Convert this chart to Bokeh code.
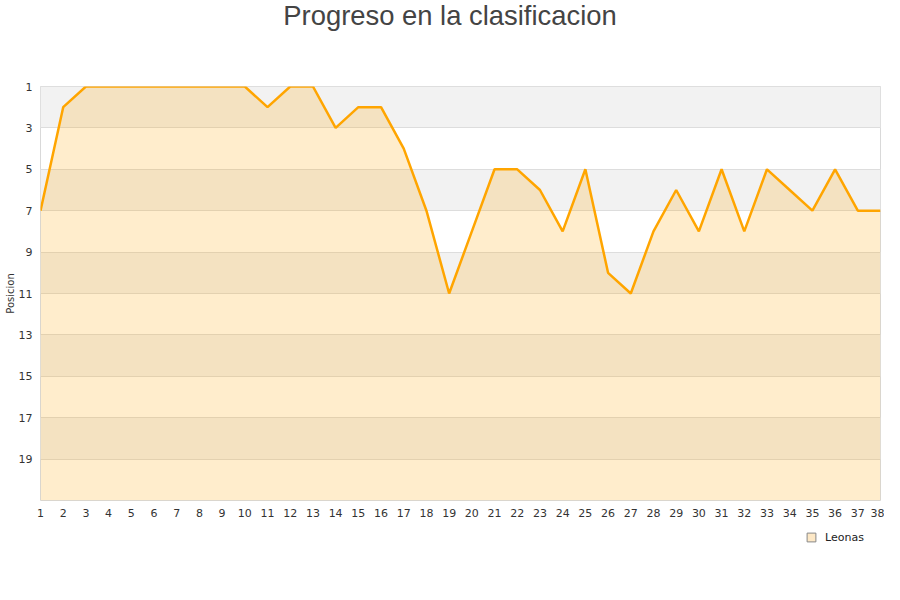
from bokeh.plotting import figure
from bokeh.layouts import column
from bokeh.models import (Range1d, FixedTicker, Legend, LegendItem, ColumnDataSource, Label)
from bokeh.embed import file_html
from bokeh.resources import INLINE

jornadas = [1, 2, 3, 4, 5, 6, 7, 8, 9, 10, 11, 12, 13, 14, 15, 16, 17, 18, 19,
            20, 21, 22, 23, 24, 25, 26, 27, 28, 29, 30, 31, 32, 33, 34, 35, 36, 37, 38]
posiciones = [7, 2, 1, 1, 1, 1, 1, 1, 1, 1, 2, 1, 1, 3, 2, 2, 4, 7, 11, 8,
              5, 5, 6, 8, 5, 10, 11, 8, 6, 8, 5, 8, 5, 6, 7, 5, 7, 7]
y_ticks = [1, 3, 5, 7, 9, 11, 13, 15, 17, 19]
y_top, y_bottom = 1, 21
serie = "Leonas"
titulo = "Progreso en la clasificacion"
eje_y = "Posicion"

W = 884
LEFT = 40  # frame left edge; the strips in the column share it

def blank(h):
    f = figure(width=W, height=h, output_backend="svg", toolbar_location=None,
               x_axis_type=None, y_axis_type=None,
               x_range=Range1d(-2, -1), y_range=Range1d(-2, -1),
               min_border=0, min_border_left=LEFT, min_border_right=4)
    f.outline_line_color = None
    f.grid.visible = False
    return f

# --- title strip ---
t = blank(40)
t.add_layout(Label(x=449.5 - LEFT, y=25, x_units="screen", y_units="screen", text=titulo,
                   text_align="center", text_baseline="middle",
                   text_font="Liberation Sans", text_font_size="27.4px",
                   text_color="#444444"))

# --- main chart ---
src = ColumnDataSource(dict(x=jornadas, y=posiciones, base=[y_bottom] * len(jornadas)))

p = figure(width=W, height=484, output_backend="svg", toolbar_location=None,
           x_range=Range1d(jornadas[0], jornadas[-1]),
           y_range=Range1d(y_bottom, y_top),
           min_border_left=LEFT, min_border_right=4, min_border_top=46,
           min_border_bottom=24)

p.outline_line_color = "#d9d9d9"
p.background_fill_color = "white"
p.border_fill_color = "white"

p.xaxis.ticker = FixedTicker(ticks=jornadas)
p.yaxis.ticker = FixedTicker(ticks=y_ticks)
for ax in (p.xaxis, p.yaxis):
    ax.axis_line_color = None
    ax.major_tick_line_color = None
    ax.minor_tick_line_color = None
    ax.major_tick_out = 0
    ax.major_tick_in = 0
    ax.major_label_text_font = "DejaVu Sans"
    ax.major_label_text_font_size = "11px"
    ax.major_label_text_color = "#333333"
p.xaxis.major_label_standoff = 8
p.yaxis.major_label_standoff = 8
p.yaxis.axis_label = eje_y
p.yaxis.axis_label_text_font = "DejaVu Sans"
p.yaxis.axis_label_text_font_size = "10px"
p.yaxis.axis_label_text_font_style = "normal"
p.yaxis.axis_label_text_color = "#333333"
p.yaxis.axis_label_standoff = 0

p.xgrid.grid_line_color = None
# grid bands alternate starting with the first interval below the top tick
p.ygrid.ticker = FixedTicker(ticks=sorted(y_ticks + [y_top + 1e-4]))
p.ygrid.grid_line_color = "#dddddd"
p.ygrid.band_fill_color = "#f2f2f2"
p.ygrid.band_fill_alpha = 1.0

p.varea(x="x", y1="y", y2="base", source=src, fill_color="#ffa500", fill_alpha=0.2)
p.line(x="x", y="y", source=src, line_color="#ffa500", line_width=2.5)

# --- legend strip (swatch renderer holds the series, kept outside the strip's view) ---
lg = blank(60)
sq = lg.scatter(x="x", y="y", source=src, marker="square", fill_color="#fde8c6",
                line_color="#888888", line_width=1)
legend = Legend(items=[LegendItem(label=serie, renderers=[sq])],
                location=(800 - LEFT, 36), padding=0, margin=0, glyph_width=22,
                glyph_height=22, label_standoff=3,
                border_line_alpha=0, background_fill_alpha=0,
                label_text_font="DejaVu Sans", label_text_font_size="11px",
                label_text_color="#222222")
lg.add_layout(legend, "center")

layout = column(t, p, lg, spacing=0)
open("out.html", "w").write(file_html(layout, INLINE))
